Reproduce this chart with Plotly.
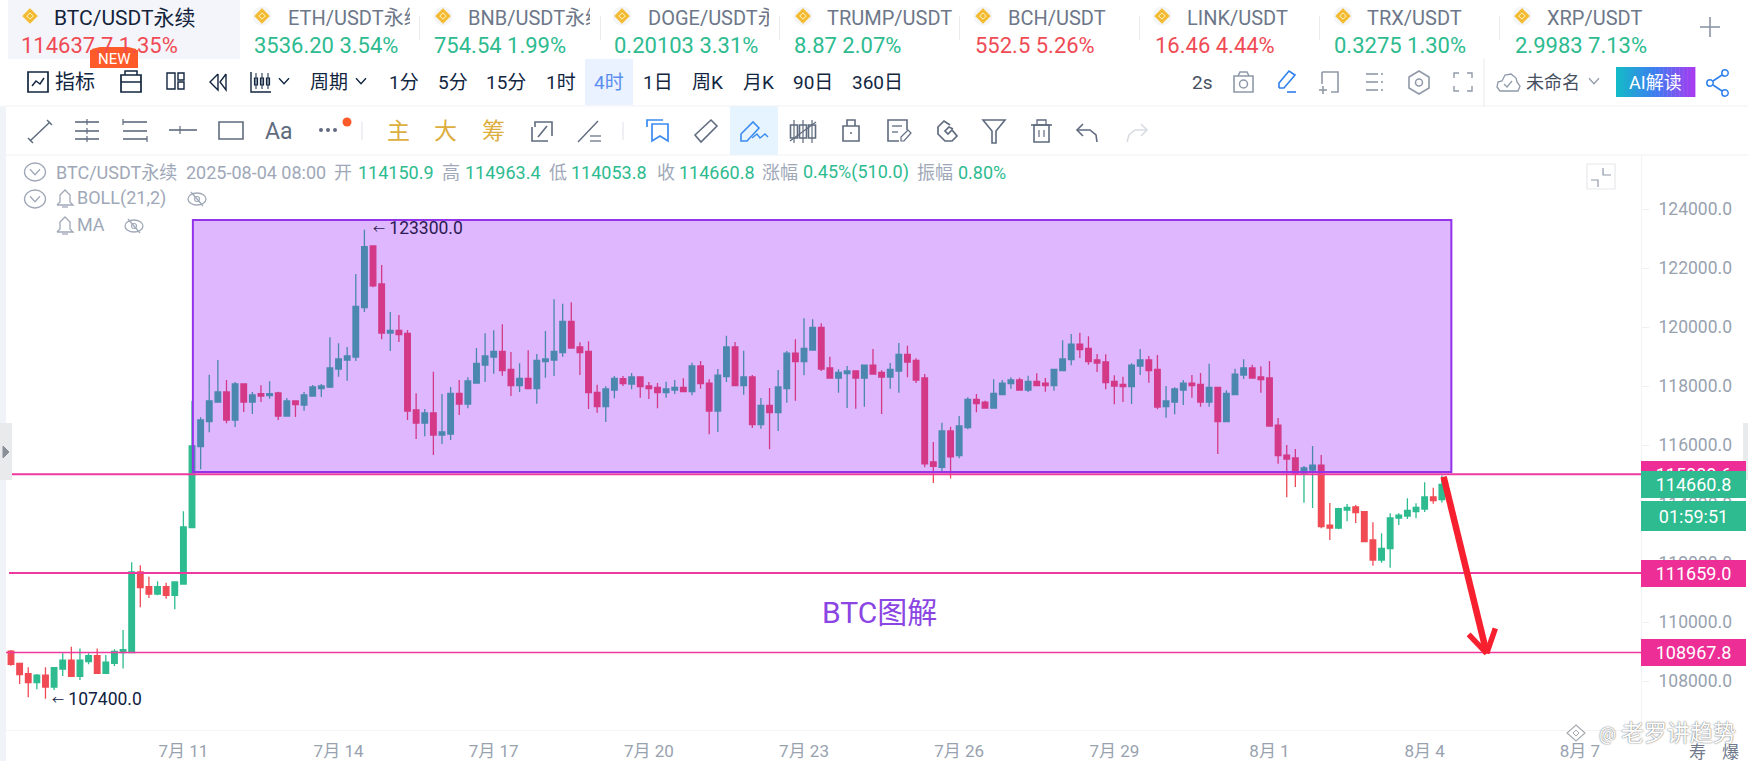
import pandas as pd
import plotly.graph_objects as go

W, H = 1748, 761
FONT = "Roboto, 'Noto Sans CJK SC', sans-serif"

# ---------- chart data ----------
START = "2025-07-07 16:00"
OPEN = [109016,108598,108248,107943,108202,107796,108406,108711,108157,108654,
108858,108259,108598,108960,108961,111695,111198,110949,111198,110904,
111288,113198,115944,116791,117458,117797,116848,118068,117458,117741,
117673,117763,116984,117492,117356,117662,117910,117967,118577,118882,
118984,120656,122747,121458,119797,119888,119786,117187,116746,117085,
116339,116373,117752,117390,118102,118711,118983,119175,118565,118011,
118259,117909,118824,118881,119130,120192,119322,119175,117785,117299,
117864,118248,118067,118305,118000,117954,117774,117864,117954,117807,
118678,118101,117152,118316,119322,118011,118305,116689,117344,117096,
117909,119118,118824,119220,119988,118610,118271,118418,118508,118271,
118711,118463,118305,118508,119073,118870,118271,115430,115244,116474,
115638,116587,117548,117457,117254,117706,118079,118203,117864,118158,
118101,118011,118519,118892,119423,119276,118881,118813,118158,118056,
117977,118678,118881,118565,117299,117457,117864,118101,118056,117457,
117954,116790,117706,118372,118610,118305,118271,116677,115660,115559,
115016,115152,115321,113287,113186,113796,113898,113739,112779,112101,
112485,113525,113593,113739,113830,114237,114150.9]
HIGH = [109050,108598,108462,108236,108462,108451,108937,109163,109106,108937,
109106,108880,109073,109728,112023,111921,111537,111379,111334,111356,
113752,117492,116938,118385,118882,118204,118136,118068,117797,118023,
118159,117808,117594,117503,117797,118034,118068,119650,119447,119323,
121797,123300,122769,122102,120509,120407,119899,117752,117221,118486,
117729,117967,118204,118294,119289,119785,119887,120090,119152,118768,
119209,119084,119864,120938,120791,120836,119480,119514,118045,117988,
118339,118339,118440,118305,118135,118101,118146,118203,118259,118791,
118847,118226,118576,119706,119491,119197,118372,117593,117932,118542,
119186,119582,120293,120260,120124,118994,118565,118678,118508,118711,
119254,118531,118779,119457,119367,118937,118406,116101,116757,116621,
116983,117615,117728,117502,118226,118203,118293,118282,118350,118429,
118271,118565,119548,119762,119808,119683,119084,119073,118361,118316,
118768,119254,119017,119050,118000,117954,118203,118372,118440,118757,
117977,117853,118587,118904,118723,118666,118847,116915,115999,115864,
115288,115966,115660,114033,113875,113999,113965,113739,113378,113005,
113683,113683,114191,114022,114734,114553,114963.4]
LOW = [108519,107897,107445,107717,107400,107694,108169,108146,108033,108564,
108259,108259,108508,108428,108961,110497,110814,110904,110791,110430,
111266,113198,115176,116430,117458,116735,116611,117119,117051,117458,
117571,116848,116984,116950,117164,117639,117628,117933,118317,118181,
118848,120509,121345,119583,119187,119492,116848,116204,116294,115661,
116034,116170,117017,117243,118102,118135,118418,118350,117661,117796,
117909,117401,118282,118339,118994,119288,118372,117220,117096,116779,
117581,118000,117887,117604,117559,117242,117604,117728,117796,117683,
117909,116361,116440,118135,118011,117706,116576,116553,115853,116474,
117435,117502,118361,119197,118508,118248,117774,117254,117231,117299,
118406,117050,117909,117774,118293,118101,115244,114715,115055,114866,
115547,116531,117107,117254,117254,117706,117909,117841,117796,118011,
117807,117841,118519,118700,118949,118723,118474,117887,117378,117457,
117389,118372,118113,117209,116926,117039,117355,117604,117299,117299,
115694,116790,117706,118237,118248,117774,116644,115367,114225,114576,
114045,113864,113174,112779,113141,113412,113355,112722,111909,112011,
111841,113287,113491,113513,113728,114011,114053.8]
CLOSE = [108564,108214,107943,108202,107796,108451,108711,108157,108711,108858,
108259,108643,109005,109061,111695,111164,110949,111198,110904,111356,
113221,115967,116848,117492,117797,116848,118068,117458,117695,117662,
117741,116984,117492,117368,117695,117967,118001,118611,118916,119018,
120701,122724,121391,119797,119888,119741,117153,116746,117085,116339,
116441,117752,117390,118170,118769,119017,119175,118519,118011,118259,
117909,118870,118915,119175,120192,119288,119130,117774,117299,117898,
118259,118079,118305,117977,117909,117774,117898,117954,117807,118678,
118079,117152,118372,119322,118011,118305,116689,117344,117096,117966,
119118,118824,119276,119988,118576,118271,118463,118508,118271,118711,
118406,118305,118565,119073,118813,118203,115357,115280,116474,115600,
116644,117548,117401,117254,117751,118101,118203,117864,118158,118011,
118011,118565,118915,119423,119231,118824,118779,118113,118000,117977,
118711,118881,118519,117288,117491,117898,118101,118011,117457,117954,
116790,117751,118406,118610,118271,118214,116644,115638,115525,115005,
115220,115321,113231,113186,113841,113886,113706,112722,112101,112496,
113525,113626,113785,113886,114237,114112,114660.8]

TICK_DATES = ["2025-07-11","2025-07-14","2025-07-17","2025-07-20","2025-07-23",
              "2025-07-26","2025-07-29","2025-08-01","2025-08-04","2025-08-07"]
TICK_LABELS = ["7月 11","7月 14","7月 17","7月 20","7月 23","7月 26","7月 29","8月 1","8月 4","8月 7"]
PRICE_TICKS = [108000,110000,112000,114000,116000,118000,120000,122000,124000]
PRICE_TEXT = [f"{v}.0" for v in PRICE_TICKS]
LEVELS = [115008.6, 111659.0, 108967.8]
LAST_PRICE = 114660.8
ZONE_LOW, ZONE_HIGH = 115085, 123628
Y_RANGE = [106339, 125797]
X_RANGE_BARS = [-0.58, 189.1]
ZONE_BARS = [21.1, 167.1]

UP, DOWN = "#2dbb8f", "#f04b55"
PINK = "#ee2e97"
DARK = "#12263f"
GREY = "#5f6b7e"
LEG = "#a0a8b8"
BLUE = "#3b8cf0"
GOLD = "#dcae3e"


def bar_time(i):
    return str(pd.Timestamp(START) + pd.Timedelta(hours=4) * i)


TIMES = [bar_time(i) for i in range(len(OPEN))]
shapes, annos = [], []


def px(x):
    return x / W


def py(y):
    return 1 - y / H


def path(pts, color=GREY, w=1.6, close=False, fill=None):
    d = "M " + " L ".join(f"{px(x):.5f},{py(y):.5f}" for x, y in pts) + (" Z" if close else "")
    shapes.append(dict(type="path", xref="paper", yref="paper", path=d, layer="above",
                       line=dict(color=color, width=w), fillcolor=fill or "rgba(0,0,0,0)"))


def rect(x0, y0, x1, y1, fill=None, color=None, w=1.6):
    if fill is None and color is None:
        color = GREY
    shapes.append(dict(type="rect", xref="paper", yref="paper", x0=px(x0), x1=px(x1), y0=py(y0), y1=py(y1),
                       layer="above", fillcolor=fill or "rgba(0,0,0,0)",
                       line=dict(color=color or "rgba(0,0,0,0)", width=w if color else 0)))


def ell(cx, cy, rx, ry, fill=None, color=None, w=1.5):
    shapes.append(dict(type="circle", xref="paper", yref="paper", x0=px(cx - rx), x1=px(cx + rx),
                       y0=py(cy - ry), y1=py(cy + ry), layer="above", fillcolor=fill or "rgba(0,0,0,0)",
                       line=dict(color=color or "rgba(0,0,0,0)", width=w if color else 0)))


def txt(x, y, s, size=17, color=DARK, anchor="left", **kw):
    annos.append(dict(x=px(x), y=py(y), xref="paper", yref="paper", text=s, showarrow=False, xanchor=anchor,
                      yanchor="middle", borderpad=0, borderwidth=0,
                      font=dict(family=FONT, size=size, color=color, **kw.pop("font", {})), **kw))


def cover(x0, y0, x1, y1, fill="#ffffff"):
    annos.append(dict(x=px(x0), y=py(y0), xref="paper", yref="paper", text=" ", showarrow=False, xanchor="left",
                      yanchor="top", borderpad=0, borderwidth=0, bgcolor=fill,
                      width=x1 - x0, height=y1 - y0, font=dict(size=1)))


def diamond(cx, cy):
    ell(cx, cy, 9.5, 9.5, fill="#f4f5f8")
    path([(cx, cy - 7.5), (cx + 7.5, cy), (cx, cy + 7.5), (cx - 7.5, cy)], color="#f3ba2f", w=0.5, close=True,
         fill="#f3ba2f")
    path([(cx, cy - 3.2), (cx + 3.2, cy), (cx, cy + 3.2), (cx - 3.2, cy)], color="#fff3d0", w=1, close=True)


def chevron(cx, cy, r=5, color=DARK, w=1.4):
    path([(cx - r, cy - r * 0.55), (cx, cy + r * 0.55), (cx + r, cy - r * 0.55)], color=color, w=w)


# ---------- page backgrounds ----------
rect(0, 106, 6, H, fill="#f0f4f8")
rect(8, 0, 240, 59, fill="#f3f5fa")
rect(585, 59, 633, 105, fill="#e9f2fe")
rect(730, 106, 778, 155, fill="#e6f4ff")
for yy in (106, 155):
    path([(6, yy), (W, yy)], color="#eff1f4", w=1.2)

# ---------- ticker tabs ----------
TABS = [
    ("BTC/USDT永续", "114637.7 1.35%", DOWN, 30, 54, 21, None),
    ("ETH/USDT永续", "3536.20 3.54%", UP, 262, 288, 254, 410),
    ("BNB/USDT永续", "754.54 1.99%", UP, 443, 468, 434, 590),
    ("DOGE/USDT永", "0.20103 3.31%", UP, 622, 648, 614, 769),
    ("TRUMP/USDT", "8.87 2.07%", UP, 803, 827, 794, None),
    ("BCH/USDT", "552.5 5.26%", DOWN, 983, 1008, 975, None),
    ("LINK/USDT", "16.46 4.44%", DOWN, 1162, 1187, 1155, None),
    ("TRX/USDT", "0.3275 1.30%", UP, 1343, 1367, 1334, None),
    ("XRP/USDT", "2.9983 7.13%", UP, 1522, 1547, 1515, None),
]
for k, (name, val, col, ix, tx, vx, clip) in enumerate(TABS):
    diamond(ix, 16)
    txt(tx, 18, name, size=21 if k == 0 else 20, color="#14233b" if k == 0 else "#6d7789")
    if clip:
        cover(clip, 4, clip + 20, 32)
    txt(vx, 46, val, size=22, color=col)
for sx in (419, 600, 779, 959, 1139, 1319, 1499):
    cover(sx, 16, sx + 1, 40, fill="#e9ebef")
path([(1700, 27), (1720, 27)], color="#8b95a5", w=1.6)
path([(1710, 17), (1710, 37)], color="#8b95a5", w=1.6)
rect(90, 50, 138, 68, fill="#ff5a2a")
path([(92, 50), (100, 48), (128, 48), (136, 50)], color="#ff5a2a", w=2, close=True, fill="#ff5a2a")
txt(114, 59, "NEW", size=15, color="#ffffff", anchor="center")

# ---------- toolbar row 1 ----------
rect(28, 72, 48, 92, color=DARK, w=1.7)
path([(32, 86), (36, 81), (40, 84), (44, 78)], color=DARK, w=1.5)
txt(55, 82, "指标", size=20)
rect(121, 75, 141, 92, color=DARK, w=1.7)
path([(121, 82), (141, 82)], color=DARK, w=1.5)
path([(125, 75), (125, 71), (137, 71), (137, 75)], color=DARK, w=1.5)
rect(167, 73, 175, 89, color=DARK, w=1.4)
rect(178, 73, 184, 80, color=DARK, w=1.4)
rect(178, 82, 184, 89, color=DARK, w=1.4)
path([(218, 74), (210, 82), (218, 90), (218, 74)], color=DARK, w=1.4)
path([(226, 74), (220, 82), (226, 90), (226, 74)], color=DARK, w=1.4)
path([(251, 72), (251, 92), (271, 92)], color=DARK, w=1.4)
for cx in (256, 262, 268):
    rect(cx - 1.5, 78, cx + 1.5, 85, color=DARK, w=1.2)
    path([(cx, 73), (cx, 89)], color=DARK, w=1)
chevron(284, 81)
txt(310, 82, "周期", size=19)
chevron(361, 81)
for x0, label, col in [(389, "1分", DARK), (438, "5分", DARK), (486, "15分", DARK), (546, "1时", DARK),
                       (594, "4时", "#5b8def"), (643, "1日", DARK), (692, "周K", DARK), (743, "月K", DARK),
                       (793, "90日", DARK), (852, "360日", DARK)]:
    txt(x0, 82, label, size=19, color=col)
txt(1192, 83, "2s", size=19, color="#46505f")
ICON = "#8f99a8"
rect(1234, 76, 1253, 92, color=ICON)
path([(1238, 76), (1240, 72), (1247, 72), (1249, 76)], color=ICON)
ell(1243.5, 84, 4, 4, color=ICON)
path([(1279, 88), (1279, 83), (1289, 71), (1295, 75), (1284, 88), (1279, 88)], color="#2f80ed", w=1.6)
path([(1287, 92), (1296, 92)], color="#2f80ed", w=1.6)
path([(1322, 72), (1338, 72), (1338, 92), (1331, 92)], color=ICON)
path([(1322, 72), (1322, 84)], color=ICON)
path([(1319, 90), (1327, 90)], color=ICON)
path([(1323, 86), (1323, 94)], color=ICON)
for yy in (74, 82, 90):
    path([(1366, yy), (1378, yy)], color=ICON)
    path([(1381, yy), (1383, yy)], color=ICON)
path([(1419, 71), (1429, 77), (1429, 88), (1419, 94), (1409, 88), (1409, 77)], color=ICON, close=True)
ell(1419, 82.5, 3.5, 3.5, color=ICON)
for sx, sy in ((-1, -1), (1, -1), (-1, 1), (1, 1)):
    cx, cy = 1463 + sx * 9, 82 + sy * 9
    path([(cx - sx * 5, cy), (cx, cy), (cx, cy - sy * 5)], color=ICON, w=1.4)
path([(1484, 59), (1484, 106)], color="#e7e9ed", w=1)
path([(1500, 91), (1497, 87), (1498, 82), (1502, 81), (1505, 75), (1511, 74), (1516, 78), (1517, 82), (1520, 86),
      (1518, 91)], color=ICON, w=1.3, close=True)
path([(1504, 84), (1507, 87), (1512, 81)], color=ICON, w=1.2)
txt(1526, 83, "未命名", size=18, color="#46505f")
chevron(1594, 81, r=5, color=ICON, w=1.2)
AI_STEPS = 20
for i in range(AI_STEPS):
    f = i / (AI_STEPS - 1)
    if f < 0.5:
        a, b, g = (22, 185, 201), (61, 124, 240), f * 2
    else:
        a, b, g = (61, 124, 240), (165, 60, 240), (f - 0.5) * 2
    c = tuple(round(a[j] + (b[j] - a[j]) * g) for j in range(3))
    rect(1616 + i * 79 / AI_STEPS, 67, 1616 + (i + 1) * 79 / AI_STEPS + 0.4, 97, fill=f"rgb{c}")
txt(1655.5, 82, "AI解读", size=18, color="#ffffff", anchor="center")
ell(1710, 83, 3.2, 3.2, color="#2f80ed")
ell(1725, 73, 3.2, 3.2, color="#2f80ed")
ell(1725, 93, 3.2, 3.2, color="#2f80ed")
path([(1713, 81), (1722, 75)], color="#2f80ed")
path([(1713, 85), (1722, 91)], color="#2f80ed")

# ---------- toolbar row 2 ----------
path([(30, 141), (50, 122)], w=1.5)
path([(28, 138), (33, 143)], w=1.4)
path([(47, 120), (52, 125)], w=1.4)
for yy in (122, 131, 139):
    path([(75, yy), (99, yy)])
path([(87, 119), (87, 125)], w=1.2)
path([(87, 128), (87, 134)], w=1.2)
path([(87, 136), (87, 142)], w=1.2)
for yy in (122, 131, 139):
    path([(123, yy), (147, yy)])
path([(123, 119), (123, 125)], w=1.2)
path([(147, 136), (147, 142)], w=1.2)
path([(169, 130), (197, 130)])
path([(180, 126), (180, 134)], w=1.2)
rect(219, 122, 243, 139)
txt(265, 131, "Aa", size=23, color=GREY)
for cx in (321, 328, 335):
    ell(cx, 130, 2, 2, fill=GREY)
ell(347, 122, 4.5, 4.5, fill="#ff5a2a")
path([(362, 122), (362, 140)], color="#e8eaee", w=1.4)
for cx, s in ((398, "主"), (445, "大"), (493, "筹")):
    txt(cx, 131, s, size=23, color=GOLD, anchor="center")
path([(535, 127), (535, 122), (552, 122), (552, 136)])
path([(532, 127), (532, 141), (548, 141)])
path([(538, 137), (547, 126)], w=1.6)
path([(578, 142), (598, 121)], w=1.4)
path([(590, 136), (601, 136)], w=1.2)
path([(590, 141), (601, 141)], w=1.2)
path([(623, 122), (623, 140)], color="#e8eaee", w=1.4)
path([(647, 127), (647, 120), (663, 120)], color=BLUE, w=1.7)
path([(652, 124), (668, 124), (668, 141), (660, 136), (652, 141)], color=BLUE, w=1.7, close=True)
path([(695, 135), (711, 120), (717, 126), (701, 142)], close=True)
path([(741, 141), (741, 134), (753, 122), (759, 128), (747, 141)], color=BLUE, close=True)
path([(752, 138), (757, 134), (760, 138), (765, 134), (768, 137)], color=BLUE, w=1.4)
for cx in (794, 803, 812):
    rect(cx - 3.5, 125, cx + 3.5, 138)
    path([(cx, 120), (cx, 143)], w=1.2)
path([(790, 141), (816, 122)], w=1.3)
rect(843, 126, 859, 141)
path([(847, 126), (847, 120), (855, 120), (855, 126)])
ell(851, 133, 1, 1, fill=GREY)
path([(907, 130), (907, 120), (888, 120), (888, 141), (899, 141)])
path([(892, 126), (902, 126)], w=1.3)
path([(892, 132), (898, 132)], w=1.3)
path([(901, 141), (901, 137), (908, 130), (911, 133), (904, 141)], w=1.2, close=True)
path([(950, 125), (944, 121), (938, 127), (938, 134), (945, 141), (952, 141), (957, 136), (952, 130),
      (948, 134), (945, 131), (949, 127), (953, 129)], w=1.7)
path([(983, 120), (1005, 120), (996, 131), (996, 143), (992, 143), (992, 131)], close=True)
path([(1031, 125), (1052, 125)])
path([(1037, 125), (1037, 120), (1046, 120), (1046, 125)], w=1.3)
rect(1034, 125, 1049, 142)
path([(1039, 130), (1039, 137)], w=1.2)
path([(1044, 130), (1044, 137)], w=1.2)
path([(1083, 124), (1077, 130), (1083, 136)])
path([(1077, 130), (1090, 130), (1096, 135), (1097, 142)])
LIGHT = "#d8dce3"
path([(1141, 124), (1147, 130), (1141, 136)], color=LIGHT)
path([(1147, 130), (1135, 130), (1129, 135), (1127, 142)], color=LIGHT)

# ---------- legend rows ----------
ell(35, 172, 10.5, 9, color=LEG, w=1.3)
chevron(35, 172, r=5, color=LEG, w=1.3)
ell(35, 199, 10.5, 9, color=LEG, w=1.3)
chevron(35, 199, r=5, color=LEG, w=1.3)
LEGEND = [(56, "BTC/USDT永续", LEG), (186, "2025-08-04 08:00", LEG), (334, "开", LEG), (358, "114150.9", UP),
          (442, "高", LEG), (465, "114963.4", UP), (549, "低", LEG), (571, "114053.8", UP), (657, "收", LEG),
          (679, "114660.8", UP), (762, "涨幅", LEG), (803, "0.45%(510.0)", UP), (917, "振幅", LEG),
          (958, "0.80%", UP)]
for x0, s, c in LEGEND:
    txt(x0, 172, s, size=18, color=c)
for by, tx, s, ex in ((198, 77, "BOLL(21,2)", 197), (225, 77, "MA", 134)):
    path([(57, by + 7), (60, by + 4), (60, by - 3), (65, by - 8), (70, by - 3), (70, by + 4), (73, by + 7), (57, by + 7)],
         color=LEG, w=1.3)
    path([(62, by + 9), (68, by + 9)], color=LEG, w=1.3)
    txt(tx, by, s, size=18, color=LEG)
    ell(ex, by + 1, 9, 6, color=LEG, w=1.3)
    ell(ex, by + 1, 2.5, 2.5, color=LEG, w=1.1)
    path([(ex - 6, by - 6), (ex + 6, by + 8)], color=LEG, w=1.3)
rect(1587, 164, 1615, 189, color="#e6e8ec", w=1.2)
path([(1603, 168), (1603, 175), (1611, 175)], color="#8f99a8", w=1.2)
path([(1591, 180), (1598, 180), (1598, 187)], color="#8f99a8", w=1.2)
rect(0, 423, 12, 480, fill="#e8eaec")
path([(3, 446), (9, 452), (3, 458)], color="#8a8f98", w=1, close=True, fill="#8a8f98")
rect(1743, 423, 1748, 480, fill="#e8eaec")

# ---------- drawings tied to the price scale ----------
shapes.append(dict(type="rect", xref="x", yref="y", x0=bar_time(ZONE_BARS[0]), x1=bar_time(ZONE_BARS[1]),
                   y0=ZONE_LOW, y1=ZONE_HIGH, layer="above", fillcolor="rgba(145,18,251,0.30)",
                   line=dict(color="#9333ea", width=2)))
for lv, lx, lw in zip(LEVELS, (12, 9, 6), (2, 2, 1.6)):
    shapes.append(dict(type="line", xref="paper", yref="y", x0=px(lx), x1=px(1641), y0=lv, y1=lv, layer="above",
                       line=dict(color="#ee3a9f", width=lw)))
ARROW_SHAFT = [(166.2, 114926), (171.2, 108937)]
ARROW_LEFT = [(169.1, 109581), (171.2, 108937)]
ARROW_RIGHT = [(172.2, 109785), (171.2, 108937)]
for seg, lw in ((ARROW_SHAFT, 6.5), (ARROW_LEFT, 5.5), (ARROW_RIGHT, 5.5)):
    shapes.append(dict(type="line", xref="x", yref="y", x0=bar_time(seg[0][0]), y0=seg[0][1],
                       x1=bar_time(seg[1][0]), y1=seg[1][1], layer="above", line=dict(color="#f7202f", width=lw)))


def price_tag(text, price, fill):
    annos.append(dict(x=px(1641), y=price, xref="paper", yref="y", text=text, showarrow=False, xanchor="left",
                      yanchor="middle", width=105, height=27, bgcolor=fill, borderpad=0, borderwidth=0, align="center",
                      font=dict(family=FONT, size=18, color="#ffffff")))


price_tag("115008.6", LEVELS[0], PINK)
price_tag("111659.0", LEVELS[1], PINK)
price_tag("108967.8", LEVELS[2], PINK)
price_tag("114660.8", LAST_PRICE, UP)
annos.append(dict(x=px(1641), y=py(516), xref="paper", yref="paper", text="01:59:51", showarrow=False, xanchor="left",
                  yanchor="middle", width=105, height=30, bgcolor=UP, borderpad=0, borderwidth=0, align="center",
                  font=dict(family=FONT, size=18, color="#ffffff")))

ARROW_MARK = '<span style="font-size:12px">←</span> '
annos.append(dict(x=bar_time(41), y=123300, xref="x", yref="y", text=ARROW_MARK + "123300.0", showarrow=False,
                  xanchor="left", xshift=9, yshift=1.5, borderpad=0, borderwidth=0,
                  font=dict(family=FONT, size=17.5, color="#2c1a52")))
annos.append(dict(x=bar_time(4), y=107400, xref="x", yref="y", text=ARROW_MARK + "107400.0", showarrow=False,
                  xanchor="left", xshift=7, yshift=0, borderpad=0, borderwidth=0,
                  font=dict(family=FONT, size=17.5, color="#0d2240")))
txt(879, 612, "BTC图解", size=30, color="#8b45e3", anchor="center")

# ---------- watermark ----------
path([(1576, 725), (1585, 733), (1576, 741), (1567, 733)], color="#a8acb2", w=1.2, close=True, fill="#ffffff")
path([(1576, 730), (1579, 733), (1576, 736), (1573, 733)], color="#a8acb2", w=1, close=True, fill="#ffffff")
txt(1607, 733, "@", size=19, color="#ffffff", anchor="center", font=dict(shadow="0 0 1.5px #333"))
txt(1621, 733, "老罗讲趋势", size=23, color="#ffffff", font=dict(shadow="0 0 1.5px #333"))
txt(1689, 752, "寿", size=17, color="#70798a")
txt(1722, 752, "爆", size=17, color="#70798a")

# ---------- figure ----------
fig = go.Figure(go.Candlestick(
    x=TIMES, open=OPEN, high=HIGH, low=LOW, close=CLOSE,
    increasing=dict(line=dict(color=UP, width=1.3), fillcolor=UP),
    decreasing=dict(line=dict(color=DOWN, width=1.3), fillcolor=DOWN),
    whiskerwidth=0, hoverinfo="skip", showlegend=False,
))
fig.update_layout(
    width=W, height=H, margin=dict(l=0, r=0, t=0, b=0), paper_bgcolor="#ffffff", plot_bgcolor="#ffffff",
    showlegend=False, font=dict(family=FONT), shapes=shapes, annotations=annos, boxgap=0.1, boxgroupgap=0.28,
    xaxis=dict(domain=[6 / W, 1641 / W], type="date", range=[bar_time(X_RANGE_BARS[0]), bar_time(X_RANGE_BARS[1])],
               rangeslider=dict(visible=False), showgrid=False, zeroline=False, showline=True, linecolor="#f3f4f6",
               linewidth=1, tickmode="array", tickvals=TICK_DATES, ticktext=TICK_LABELS, ticks="", ticklabelstandoff=6,
               tickfont=dict(family=FONT, size=17, color="#98a2af"), anchor="y"),
    yaxis=dict(domain=[1 - 730 / H, 1 - 156 / H], side="right", range=Y_RANGE, showgrid=False, zeroline=False,
               showline=True, linecolor="#f1f3f5", linewidth=1, tickmode="array", tickvals=PRICE_TICKS,
               ticktext=PRICE_TEXT, ticks="outside", ticklen=7, tickcolor="#eef0f3", ticklabelstandoff=6,
               tickfont=dict(family=FONT, size=17.5, color="#98a2af"), anchor="x"),
)
fig.write_html("out.html", config=dict(displayModeBar=False),
               post_script="document.body.style.margin='0';document.documentElement.style.overflow='hidden';")
